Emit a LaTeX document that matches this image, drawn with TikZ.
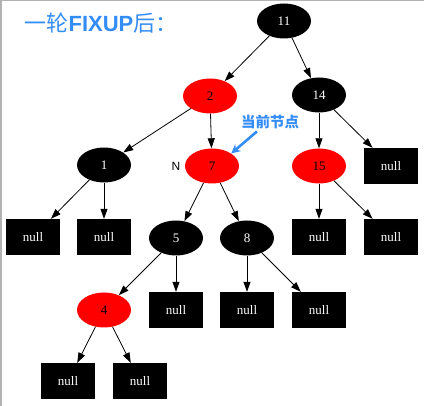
\documentclass[tikz,border=0pt]{standalone}
\usepackage{fontspec}
\setmainfont{Liberation Serif}
\newfontfamily\cjk{Noto Sans CJK SC}
\newfontfamily\arial{Liberation Sans}
\usetikzlibrary{positioning,arrows.meta,shapes.geometric}
\definecolor{rbred}{RGB}{255,0,0}
\definecolor{noteblue}{RGB}{52,140,245}

\begin{document}
\begin{tikzpicture}[x=1pt,y=-1pt,
  blknode/.style={ellipse, fill=black, text=white, minimum width=54pt, minimum height=35pt, inner sep=0pt, font=\fontsize{13}{13}\selectfont},
  rednode/.style={blknode, fill=rbred, text=black},
  nil/.style={rectangle, fill=black, text=white, minimum width=54pt, minimum height=36pt, inner sep=0pt, font=\fontsize{13}{13}\selectfont},
  edge/.style={-{Triangle[length=10pt,width=7pt]}, line width=0.8pt}]
  \useasboundingbox (0,0) rectangle (424,406);
  % frame edges
  \draw[gray!60, line width=1.5pt] (0,0.75) -- (424,0.75);
  \draw[gray!60, line width=1.5pt] (0.75,0) -- (0.75,406);

  % title
  \node[text=noteblue, font=\cjk\fontsize{22}{22}\selectfont, inner sep=0pt] (title) at (101,23) {一轮{\arial\bfseries FIXUP}后：};

  % tree nodes
  \node[blknode] (n11) at (284,21) {11};
  \node[rednode] (n2) at (210,96) {2};
  \node[blknode] (n14) at (319,95) {14};
  \node[blknode] (n1) at (104,165) {1};
  \node[rednode] (n7) at (212,166) {7};
  \node[rednode] (n15) at (319,166) {15};
  \node[nil] (z14) at (391,166) {null};
  \node[nil] (z1l) at (33,237) {null};
  \node[nil] (z1r) at (104,237) {null};
  \node[blknode] (n5) at (176,238) {5};
  \node[blknode] (n8) at (247,238) {8};
  \node[nil] (z15l) at (319,237) {null};
  \node[nil] (z15r) at (391,237) {null};
  \node[rednode] (n4) at (104,310) {4};
  \node[nil] (z5) at (176,310) {null};
  \node[nil] (z8l) at (247,310) {null};
  \node[nil] (z8r) at (319,310) {null};
  \node[nil] (z4l) at (68,381) {null};
  \node[nil] (z4r) at (140,381) {null};

  % edges
  \draw[edge] (n11) -- (n2);
  \draw[edge] (n11) -- (n14);
  \draw[edge] (n2) -- (n1);
  \draw[edge] (n2) -- (n7);
  \draw[edge] (n14) -- (n15);
  \draw[edge] (n14) -- (z14);
  \draw[edge] (n1) -- (z1l);
  \draw[edge] (n1) -- (z1r);
  \draw[edge] (n7) -- (n5);
  \draw[edge] (n7) -- (n8);
  \draw[edge] (n15) -- (z15l);
  \draw[edge] (n15) -- (z15r);
  \draw[edge] (n5) -- (n4);
  \draw[edge] (n5) -- (z5);
  \draw[edge] (n8) -- (z8l);
  \draw[edge] (n8) -- (z8r);
  \draw[edge] (n4) -- (z4l);
  \draw[edge] (n4) -- (z4r);

  % current node marker
  \node[font=\arial\fontsize{12}{12}\selectfont, left=1pt of n7] (nmark) {N};
  \node[text=noteblue, font=\cjk\bfseries\fontsize{14.5}{14.5}\selectfont] (cur) at (270,122) {当前节点};
  \draw[noteblue, line width=2.6pt, -{Stealth[length=9pt,width=9pt]}] ([xshift=-13pt,yshift=1pt]cur.south) -- (n7.north east);
\end{tikzpicture}
\end{document}
